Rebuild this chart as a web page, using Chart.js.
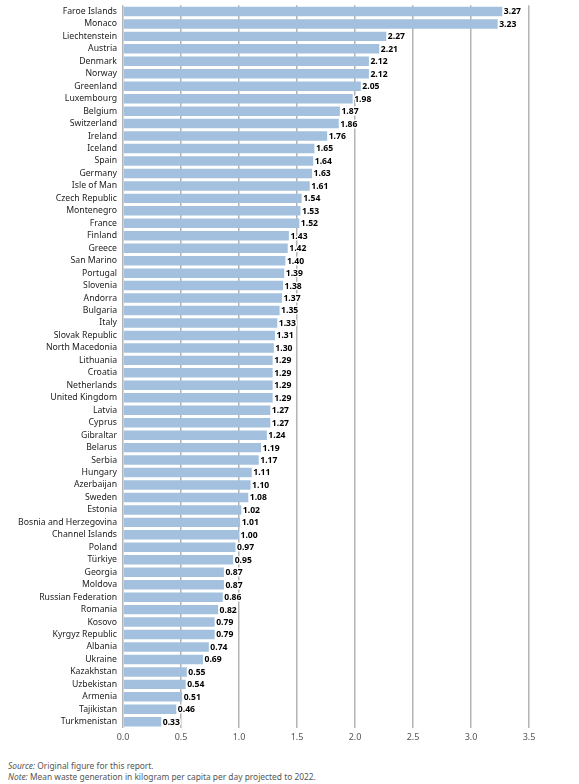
<!DOCTYPE html>
<html>
<head>
<meta charset="utf-8">
<script src="https://cdn.jsdelivr.net/npm/chart.js@4"></script>
<style>
  body { margin: 0; background: #fff; font-family: "Noto Sans", sans-serif; }
  #wrap { position: relative; width: 579px; height: 784px; overflow: hidden; }
  #barChart_waste { position: absolute; left: 0; top: -6px; }
  .foot { position: absolute; left: 8px; font-size: 8.4px; color: #555; white-space: nowrap; }
</style>
</head>
<body>
<div id="wrap">
  <canvas id="barChart_waste" width="579" height="758"></canvas>
  <div class="foot" style="top:760px"><i>Source:</i> Original figure for this report.</div>
  <div class="foot" style="top:771px"><i>Note:</i> Mean waste generation in kilogram per capita per day projected to 2022.</div>
</div>
<script>
const countries = ['Faroe Islands', 'Monaco', 'Liechtenstein', 'Austria', 'Denmark', 'Norway', 'Greenland',
    'Luxembourg', 'Belgium', 'Switzerland', 'Ireland', 'Iceland', 'Spain', 'Germany', 'Isle of Man',
    'Czech Republic', 'Montenegro', 'France', 'Finland', 'Greece', 'San Marino', 'Portugal', 'Slovenia',
    'Andorra', 'Bulgaria', 'Italy', 'Slovak Republic', 'North Macedonia', 'Lithuania', 'Croatia',
    'Netherlands', 'United Kingdom', 'Latvia', 'Cyprus', 'Gibraltar', 'Belarus', 'Serbia', 'Hungary',
    'Azerbaijan', 'Sweden', 'Estonia', 'Bosnia and Herzegovina', 'Channel Islands', 'Poland', 'Türkiye',
    'Georgia', 'Moldova', 'Russian Federation', 'Romania', 'Kosovo', 'Kyrgyz Republic', 'Albania',
    'Ukraine', 'Kazakhstan', 'Uzbekistan', 'Armenia', 'Tajikistan', 'Turkmenistan'];

const wastePerCapita = [3.27, 3.23, 2.27, 2.21, 2.12, 2.12, 2.05, 1.98, 1.87, 1.86, 1.76, 1.65, 1.64, 1.63,
    1.61, 1.54, 1.53, 1.52, 1.43, 1.42, 1.40, 1.39, 1.38, 1.37, 1.35, 1.33, 1.31, 1.30, 1.29, 1.29, 1.29,
    1.29, 1.27, 1.27, 1.24, 1.19, 1.17, 1.11, 1.10, 1.08, 1.02, 1.01, 1.00, 0.97, 0.95, 0.87, 0.87, 0.86,
    0.82, 0.79, 0.79, 0.74, 0.69, 0.55, 0.54, 0.51, 0.46, 0.33];

const xTicks = [0, 0.5, 1, 1.5, 2, 2.5, 3, 3.5];

// value labels at the end of each bar, white halo behind black bold text
const barValueLabels = {
    id: 'barValueLabels',
    afterDatasetsDraw(chart) {
        const ctx = chart.ctx;
        const meta = chart.getDatasetMeta(0);
        ctx.save();
        ctx.font = 'bold 8.6px "Noto Sans"';
        ctx.textAlign = 'left';
        ctx.textBaseline = 'middle';
        ctx.lineJoin = 'round';
        meta.data.forEach((bar, i) => {
            const txt = wastePerCapita[i].toFixed(2);
            ctx.strokeStyle = '#fff';
            ctx.lineWidth = 3;
            ctx.strokeText(txt, bar.x + 1.5, bar.y + 0.5);
            ctx.fillStyle = '#000';
            ctx.fillText(txt, bar.x + 1.5, bar.y + 0.5);
        });
        ctx.restore();
    },
};

new Chart(document.getElementById('barChart_waste'), {
    type: 'bar',
    data: {
        labels: countries,
        datasets: [
            {
                data: wastePerCapita,
                backgroundColor: '#a3c1df',
                barPercentage: 0.76,
                categoryPercentage: 1,
            },
        ],
    },
    options: {
        indexAxis: 'y',
        responsive: false,
        animation: false,
        layout: { padding: { top: 0, right: 50, left: 0, bottom: 0 } },
        scales: {
            x: {
                min: 0,
                max: 3.5,
                afterBuildTicks: (axis) => { axis.ticks = xTicks.map((v) => ({ value: v })); },
                afterFit: (axis) => { axis.height = 24; },
                grid: { color: '#b3b3b3', lineWidth: 1.5, drawTicks: false },
                border: { display: false },
                ticks: {
                    padding: 4,
                    color: '#555',
                    font: { family: 'Noto Sans', size: 9 },
                    callback: (v) => Number(v).toFixed(1),
                },
            },
            y: {
                afterFit: (axis) => { axis.width = 123; },
                grid: { display: false, drawTicks: false },
                border: { display: false },
                ticks: {
                    padding: 6,
                    autoSkip: false,
                    color: '#222',
                    font: { family: 'Noto Sans', size: 8.7 },
                },
            },
        },
        plugins: {
            legend: { display: false },
            tooltip: { enabled: false },
        },
    },
    plugins: [barValueLabels],
});
</script>
</body>
</html>
